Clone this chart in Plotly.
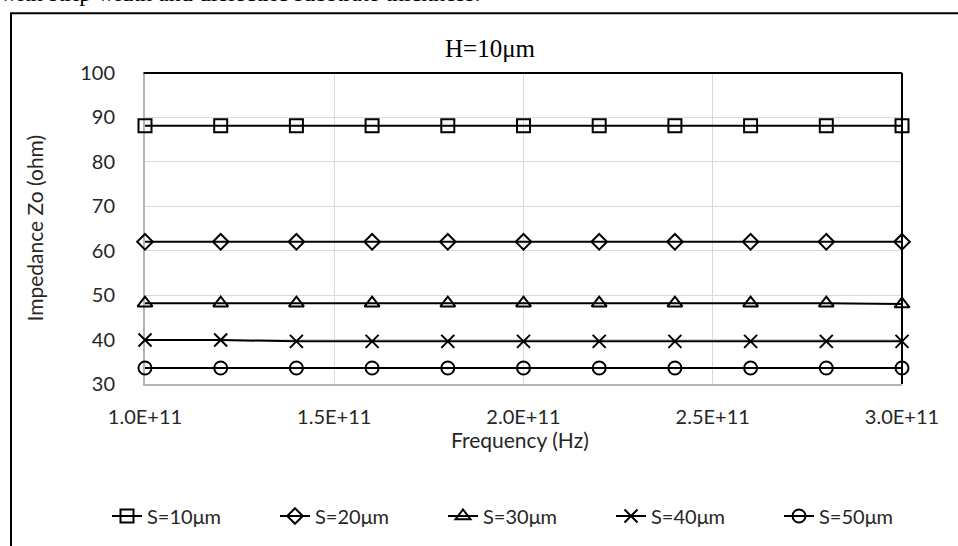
import plotly.graph_objects as go

# ---- data ----
freq = [1.0e11, 1.2e11, 1.4e11, 1.6e11, 1.8e11, 2.0e11, 2.2e11, 2.4e11, 2.6e11, 2.8e11, 3.0e11]
s10 = [88.1, 88.1, 88.1, 88.1, 88.1, 88.1, 88.1, 88.1, 88.1, 88.1, 88.1]
s20 = [62.0, 62.0, 62.0, 62.0, 62.0, 62.0, 62.0, 62.0, 62.0, 62.0, 62.0]
s30 = [48.2, 48.2, 48.2, 48.2, 48.2, 48.2, 48.2, 48.2, 48.2, 48.2, 48.0]
s40 = [39.9, 39.9, 39.6, 39.6, 39.6, 39.6, 39.6, 39.6, 39.6, 39.6, 39.6]
s50 = [33.6, 33.6, 33.6, 33.6, 33.6, 33.6, 33.6, 33.6, 33.6, 33.6, 33.6]

series_names = ["S=10μm", "S=20μm", "S=30μm", "S=40μm", "S=50μm"]
series_values = [s10, s20, s30, s40, s50]
symbols = ["square-open", "diamond-open", "triangle-up-open", "x-thin-open", "circle-open"]
sizes = [13, 12, 13, 13, 13]

x_tickvals = [1.0e11, 1.5e11, 2.0e11, 2.5e11, 3.0e11]
x_ticktext = ["1.0E+11", "1.5E+11", "2.0E+11", "2.5E+11", "3.0E+11"]
y_tickvals = [30, 40, 50, 60, 70, 80, 90, 100]

W, H = 958, 546
L, R, T, B = 145, 56, 73, 161
PW, PH = W - L - R, H - T - B

def px(x):
    return (x - L) / PW

def py(y):
    return (H - B - y) / PH

FONT = "Lato"
TXT = "#262626"

fig = go.Figure()
for name, vals, sym, sz in zip(series_names, series_values, symbols, sizes):
    fig.add_trace(go.Scatter(
        x=freq, y=vals, name=name, mode="lines+markers",
        line=dict(color="black", width=2),
        marker=dict(symbol=sym, size=sz, color="black",
                    line=dict(color="black", width=2)),
        cliponaxis=False,
    ))

fig.update_layout(
    width=W, height=H,
    margin=dict(l=L, r=R, t=T, b=B),
    paper_bgcolor="white", plot_bgcolor="white",
    font=dict(family=FONT, size=20, color=TXT),
    showlegend=True,
    legend=dict(orientation="h", x=px(107), xanchor="left", y=py(516), yanchor="middle",
                entrywidth=123, entrywidthmode="pixels",
                font=dict(family=FONT, size=20, color=TXT),
                bgcolor="rgba(0,0,0,0)", itemwidth=30, traceorder="normal"),
    xaxis=dict(range=[1.0e11, 3.0e11], tickvals=x_tickvals, ticktext=x_ticktext,
               showgrid=True, gridcolor="#d9d9d9", gridwidth=1,
               showline=True, linecolor="#b4b4b4", linewidth=2,
               zeroline=False, ticks="", ticklabelstandoff=14,
               tickfont=dict(family=FONT, size=20, color=TXT),
               layer="below traces"),
    yaxis=dict(range=[30, 100], tickvals=y_tickvals,
               showgrid=True, gridcolor="#d9d9d9", gridwidth=1,
               showline=True, linecolor="#b4b4b4", linewidth=2,
               zeroline=False, ticks="", ticklabelstandoff=24,
               tickfont=dict(family=FONT, size=20, color=TXT),
               layer="below traces"),
    shapes=[
        # plot area top & right borders
        dict(type="line", xref="paper", yref="paper", x0=-0.002, y0=1, x1=1, y1=1,
             line=dict(color="black", width=2)),
        dict(type="line", xref="paper", yref="paper", x0=1, y0=1, x1=1, y1=0,
             line=dict(color="black", width=2)),
        # outer chart border
        dict(type="rect", xref="paper", yref="paper",
             x0=px(11), y0=py(560), x1=px(975), y1=py(13),
             line=dict(color="black", width=2), fillcolor="rgba(0,0,0,0)"),
    ],
    annotations=[
        dict(text="with strip width and dielectric substrate thickness.",
             xref="paper", yref="paper", x=px(-2), y=py(-7), xanchor="left", yanchor="middle",
             showarrow=False, font=dict(family="Liberation Serif", size=24, color="black")),
        dict(text="H=10μm", xref="paper", yref="paper", x=px(490), y=py(48),
             xanchor="center", yanchor="middle", showarrow=False,
             font=dict(family="Liberation Serif", size=25, color="black")),
        dict(text="Impedance Zo (ohm)", xref="paper", yref="paper", x=px(34), y=py(229),
             xanchor="center", yanchor="middle", textangle=-90, showarrow=False,
             font=dict(family=FONT, size=21, color=TXT)),
        dict(text="Frequency (Hz)", xref="paper", yref="paper", x=px(520), y=py(441),
             xanchor="center", yanchor="middle", showarrow=False,
             font=dict(family=FONT, size=21, color=TXT)),
    ],
)

fig.write_html("out.html")
